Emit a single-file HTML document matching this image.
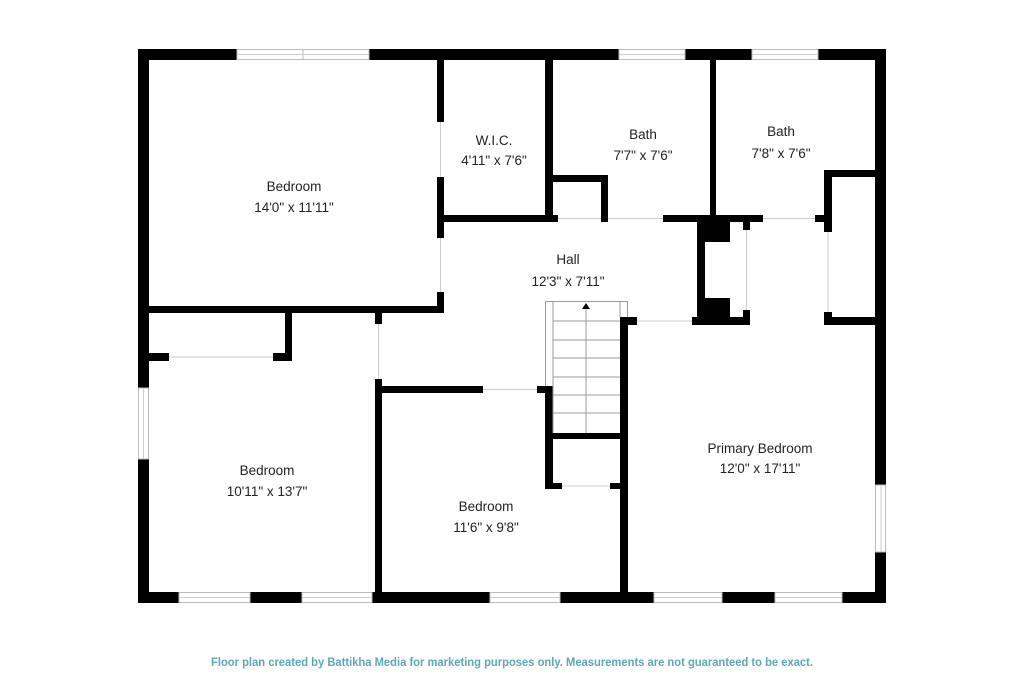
<!DOCTYPE html>
<html><head><meta charset="utf-8"><style>
html,body{margin:0;padding:0;background:#fff;}
svg{display:block}
text{font-family:"Liberation Sans",sans-serif;font-size:13.5px;fill:#222;text-anchor:middle}
</style></head><body>
<svg width="1024" height="683" viewBox="0 0 1024 683" xmlns="http://www.w3.org/2000/svg">
<rect width="1024" height="683" fill="#fff"/>
<g fill="#000">
<rect x="138" y="49" width="748" height="11"/>
<rect x="138" y="49" width="11" height="554"/>
<rect x="875" y="49" width="11" height="554"/>
<rect x="138" y="592" width="748" height="11"/>
<rect x="437" y="60" width="7" height="62"/>
<rect x="437" y="177" width="7" height="61"/>
<rect x="437" y="292" width="7" height="21"/>
<rect x="149" y="306" width="295" height="7"/>
<rect x="444" y="215" width="114" height="7"/>
<rect x="545" y="60" width="8" height="162"/>
<rect x="553" y="175" width="55" height="7"/>
<rect x="601" y="175" width="7" height="47"/>
<rect x="663" y="215" width="100" height="7"/>
<rect x="710" y="60" width="6" height="162"/>
<rect x="697" y="222" width="33" height="20"/>
<rect x="697" y="222" width="8" height="103"/>
<rect x="697" y="298" width="33" height="27"/>
<rect x="692" y="317" width="58" height="8"/>
<rect x="743" y="222" width="7" height="8"/>
<rect x="743" y="310" width="7" height="15"/>
<rect x="815" y="215" width="9" height="7"/>
<rect x="824" y="170" width="8" height="62"/>
<rect x="824" y="170" width="52" height="7"/>
<rect x="824" y="312" width="8" height="13"/>
<rect x="824" y="317" width="52" height="8"/>
<rect x="620" y="317" width="17" height="8"/>
<rect x="620" y="317" width="8" height="275"/>
<rect x="545" y="386" width="8" height="103"/>
<rect x="537" y="386" width="16" height="7"/>
<rect x="553" y="433" width="75" height="6"/>
<rect x="545" y="483" width="17" height="6"/>
<rect x="610" y="483" width="10" height="6"/>
<rect x="375" y="386" width="108" height="7"/>
<rect x="375" y="379" width="7" height="213"/>
<rect x="375" y="313" width="7" height="11"/>
<rect x="285" y="313" width="7" height="48"/>
<rect x="149" y="353" width="20" height="8"/>
<rect x="273" y="353" width="19" height="8"/>
</g>
<g fill="#fff" stroke="#bbb" stroke-width="1">
<rect x="237" y="49.5" width="66" height="10"/><rect x="303" y="49.5" width="66" height="10"/>
<rect x="619" y="49.5" width="66" height="10"/>
<rect x="752" y="49.5" width="66" height="10"/>
<rect x="875.5" y="485" width="10" height="67"/>
<rect x="138.5" y="388" width="10" height="71"/>
<rect x="179" y="592.5" width="71" height="10"/>
<rect x="302" y="592.5" width="70" height="10"/>
<rect x="490" y="592.5" width="70" height="10"/>
<rect x="654" y="592.5" width="68" height="10"/>
<rect x="775" y="592.5" width="67" height="10"/>
</g>
<g stroke="#ccc" stroke-width="1">
<line x1="237" y1="54.5" x2="369" y2="54.5"/><line x1="619" y1="54.5" x2="685" y2="54.5"/><line x1="752" y1="54.5" x2="818" y2="54.5"/>
<line x1="881" y1="485" x2="881" y2="552"/><line x1="143.5" y1="388" x2="143.5" y2="459"/>
<line x1="179" y1="597.5" x2="250" y2="597.5"/><line x1="302" y1="597.5" x2="372" y2="597.5"/><line x1="490" y1="597.5" x2="560" y2="597.5"/><line x1="654" y1="597.5" x2="722" y2="597.5"/><line x1="775" y1="597.5" x2="842" y2="597.5"/>
<line x1="746.5" y1="230" x2="746.5" y2="310"/><line x1="828" y1="232" x2="828" y2="312"/>
<line x1="637" y1="321" x2="692" y2="321"/><line x1="483" y1="389.5" x2="537" y2="389.5"/>
<line x1="562" y1="486" x2="610" y2="486"/><line x1="378.5" y1="324" x2="378.5" y2="379"/>
<line x1="169" y1="357" x2="273" y2="357"/><line x1="763" y1="218.5" x2="815" y2="218.5"/>
<line x1="608" y1="218.5" x2="663" y2="218.5"/><line x1="558" y1="218.5" x2="601" y2="218.5"/>
<line x1="440.5" y1="122" x2="440.5" y2="177"/><line x1="440.5" y1="238" x2="440.5" y2="292"/>
</g>
<g stroke="#999" stroke-width="1" fill="none">
<line x1="545.5" y1="301.5" x2="545.5" y2="386"/>
<line x1="545" y1="301.5" x2="628" y2="301.5"/>
<line x1="627.5" y1="301.5" x2="627.5" y2="317"/>
<line x1="553" y1="301" x2="553" y2="433"/>
<line x1="586" y1="308" x2="586" y2="433"/>
<line x1="620" y1="301" x2="620" y2="317"/>
<line x1="553" y1="321" x2="620" y2="321"/><line x1="553" y1="340" x2="620" y2="340"/>
<line x1="553" y1="358" x2="620" y2="358"/><line x1="553" y1="377" x2="620" y2="377"/>
<line x1="553" y1="395" x2="620" y2="395"/><line x1="553" y1="413" x2="620" y2="413"/>
</g>
<polygon points="586,303 582,309 590,309" fill="#000"/>
<text x="294" y="191">Bedroom</text><text x="294" y="212">14'0" x 11'11"</text>
<text x="494" y="145">W.I.C.</text><text x="494" y="165">4'11" x 7'6"</text>
<text x="643" y="139">Bath</text><text x="643" y="160">7'7" x 7'6"</text>
<text x="781" y="136">Bath</text><text x="781" y="158">7'8" x 7'6"</text>
<text x="568" y="264">Hall</text><text x="568" y="286">12'3" x 7'11"</text>
<text x="267" y="475">Bedroom</text><text x="267" y="496">10'11" x 13'7"</text>
<text x="486" y="511">Bedroom</text><text x="486" y="532">11'6" x 9'8"</text>
<text x="760" y="453">Primary Bedroom</text><text x="760" y="473">12'0" x 17'11"</text>
<text x="512" y="666" style="font-size:11.5px;font-weight:bold;fill:#5ba9b4" textLength="602" lengthAdjust="spacingAndGlyphs">Floor plan created by Battikha Media for marketing purposes only. Measurements are not guaranteed to be exact.</text>
</svg>
</body></html>
